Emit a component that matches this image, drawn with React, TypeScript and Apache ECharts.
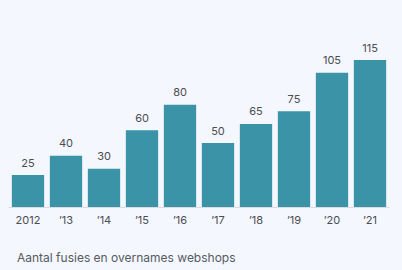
import React, { useEffect, useRef } from "react";
import * as echarts from "echarts";

const categories = ["2012", "’13", "’14", "’15", "’16", "’17", "’18", "’19", "’20", "’21"];
const values = [25, 40, 30, 60, 80, 50, 65, 75, 105, 115];
const title = "Aantal fusies en overnames webshops";

export default function App() {
  const ref = useRef<HTMLDivElement>(null);
  useEffect(() => {
    document.body.style.margin = "0";
    const chart = echarts.init(ref.current!, null, { renderer: "svg" });
    chart.setOption({
      animation: false,
      backgroundColor: "#f4f7fd",
      grid: { left: 9, width: 380, top: 60, height: 147 },
      title: {
        text: title,
        left: 12,
        top: 246,
        textStyle: { fontFamily: "Inter", fontSize: 12, fontWeight: "normal", color: "#555a63" },
      },
      xAxis: {
        type: "category",
        data: categories,
        axisTick: { show: false },
        axisLine: { show: true, lineStyle: { color: "#d8dbe0", width: 1 } },
        axisLabel: { fontFamily: "Inter", fontSize: 11, color: "#4a4d52", margin: 7 },
      },
      yAxis: { type: "value", min: 0, max: 115, show: false, splitLine: { show: false } },
      series: [
        {
          type: "bar",
          data: values,
          barCategoryGap: "15%",
          itemStyle: { color: "#3b93a8" },
          label: {
            show: true,
            position: "top",
            distance: 7,
            fontFamily: "Inter",
            fontSize: 11,
            color: "#4a4d52",
          },
        },
      ],
    });
    return () => chart.dispose();
  }, []);
  return <div ref={ref} style={{ position: "fixed", left: 0, top: 0, width: 402, height: 270 }} />;
}
